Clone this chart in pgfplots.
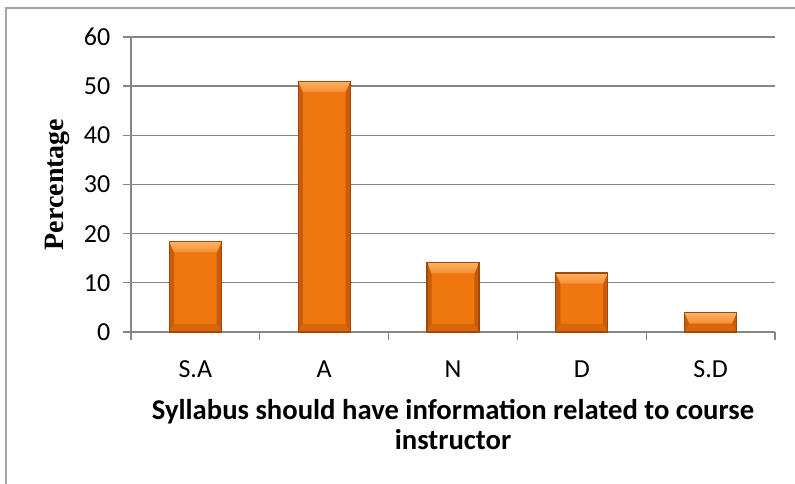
\documentclass[border=0pt]{standalone}
\usepackage{fontspec}
\setmainfont{Carlito}
\newfontfamily\serifb{Liberation Serif}
\usepackage{pgfplots}
\pgfplotsset{compat=1.18}
\definecolor{barorange}{RGB}{240,118,16}
\definecolor{barlight}{RGB}{252,178,100}
\definecolor{bardark}{RGB}{200,92,10}
\definecolor{baredge}{RGB}{160,72,8}
\definecolor{gridgray}{RGB}{134,134,134}
\definecolor{framegray}{RGB}{165,165,165}
\newif\ifinbevel
\tikzset{bevel/.style={path picture={\ifinbevel\else\inbeveltrue
  \coordinate (NW) at (path picture bounding box.north west);
  \coordinate (NE) at (path picture bounding box.north east);
  \coordinate (SW) at (path picture bounding box.south west);
  \coordinate (SE) at (path picture bounding box.south east);
  \fill[bardark, draw=none] (NW) -- ([xshift=3.5pt,yshift=-8pt]NW) -- ([xshift=3.5pt,yshift=6pt]SW) -- (SW) -- cycle;
  \fill[bardark, draw=none] (NE) -- ([xshift=-3.5pt,yshift=-8pt]NE) -- ([xshift=-3.5pt,yshift=6pt]SE) -- (SE) -- cycle;
  \fill[bardark!60!barorange, draw=none] (SW) -- ([xshift=3.5pt,yshift=6pt]SW) -- ([xshift=-3.5pt,yshift=6pt]SE) -- (SE) -- cycle;
  \shade[top color=barlight, bottom color=barorange!60!barlight, draw=none] (NW) -- (NE) -- ([xshift=-3.5pt,yshift=-8pt]NE) -- ([xshift=3.5pt,yshift=-8pt]NW) -- cycle;
  \fi}}}
\pgfplotsset{mybar/.style={ybar, bar shift=0pt, bar width=39pt, fill=barorange, draw=baredge, line width=0.8pt, bevel}}
\begin{document}
\begin{tikzpicture}
\useasboundingbox (-98.25pt,-114pt) rectangle (498pt,249pt);
\draw[framegray, line width=0.8pt] (-93.75pt,-250pt) -- (-93.75pt,243pt) -- (700pt,243pt);
\begin{axis}[
  at={(0pt,0pt)}, anchor=south west,
  scale only axis, width=483pt, height=221.25pt,
  xmin=0.5, xmax=5.5, ymin=0, ymax=60,
  ytick={0,10,...,60},
  xtick={1,2,3,4,5}, xticklabels={S.A,A,N,D,S.D},
  minor xtick={0.5,1.5,...,5.5},
  axis lines=left,
  axis line style={draw=gridgray, line width=1pt, -},
  tick align=outside,
  major tick length=6pt, minor tick length=6pt,
  major x tick style={draw=none},
  minor x tick style={draw=gridgray, line width=1pt},
  major y tick style={draw=gridgray, line width=1pt},
  ymajorgrids, grid style={draw=gridgray, line width=1pt},
  ticklabel style={font=\fontsize{19.5}{21}\selectfont, text=black},
  /pgf/number format/assume math mode=true,
  yticklabel style={xshift=-6pt},
  xticklabel style={yshift=-12pt},
  xlabel={Syllabus should have information related to course\\instructor},
  xlabel style={align=center, font=\fontsize{21.5}{22.5}\selectfont\bfseries, yshift=-9pt},
  ylabel={Percentage},
  ylabel style={font=\fontsize{21}{22}\selectfont\serifb\bfseries, yshift=4pt},
  clip=false,
]
\addplot[mybar] coordinates {(1,18.35)};
\addplot[mybar] coordinates {(2,51)};
\addplot[mybar] coordinates {(3,14.1)};
\addplot[mybar] coordinates {(4,12)};
\addplot[mybar] coordinates {(5,3.9)};
\end{axis}
\end{tikzpicture}
\end{document}
